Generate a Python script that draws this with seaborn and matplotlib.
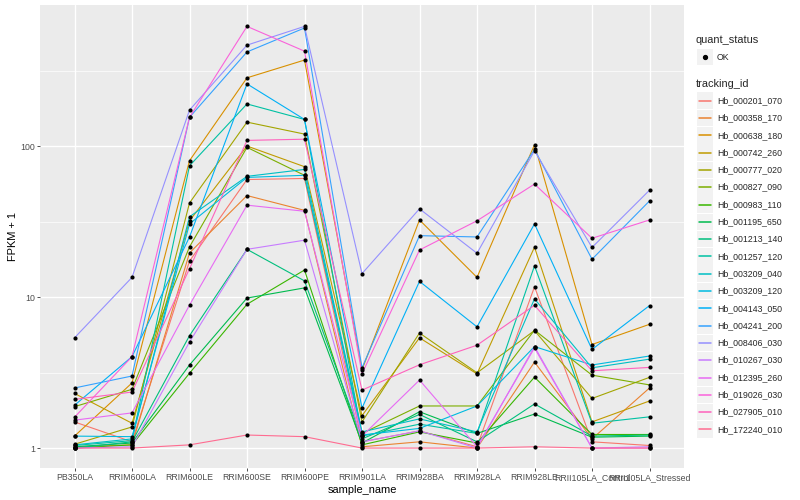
import numpy as np
import pandas as pd
import seaborn as sns
import matplotlib.pyplot as plt
from matplotlib.lines import Line2D
from matplotlib.patches import Rectangle
from matplotlib.ticker import FixedLocator, NullFormatter

samples = ["PB350LA", "RRIM600LA", "RRIM600LE", "RRIM600SE", "RRIM600PE",
           "RRIM901LA", "RRIM928BA", "RRIM928LA", "RRIM928LE",
           "RRII105LA_Control", "RRII105LA_Stressed"]

tracking_ids = ["Hb_000201_070", "Hb_000358_170", "Hb_000638_180", "Hb_000742_260",
                "Hb_000777_020", "Hb_000827_090", "Hb_000983_110", "Hb_001195_650",
                "Hb_001213_140", "Hb_001257_120", "Hb_003209_040", "Hb_003209_120",
                "Hb_004143_050", "Hb_004241_200", "Hb_008406_030", "Hb_010267_030",
                "Hb_012395_260", "Hb_019026_030", "Hb_027905_010", "Hb_172240_010"]

# FPKM + 1, one list per gene, in the order of samples
hb_000201_070 = [1.49, 1.10, 17.3, 60, 61, 1.10, 1.30, 1.02, 11.7, 1.10, 1.04]
hb_000358_170 = [1.02, 1.05, 19.6, 47, 37.5, 1.02, 1.10, 1.00, 3.71, 1.15, 2.50]
hb_000638_180 = [1.20, 2.70, 80, 283, 371, 3.30, 32.4, 13.5, 102, 4.85, 6.60]
hb_000742_260 = [2.30, 1.46, 32, 100, 73, 1.64, 5.37, 3.10, 21.4, 1.49, 2.05]
hb_000777_020 = [1.06, 1.38, 42, 144, 120, 1.49, 5.78, 3.15, 6.0, 2.13, 2.94]
hb_000827_090 = [1.88, 2.45, 21.5, 98, 64, 1.25, 1.90, 1.90, 6.04, 3.04, 2.62]
hb_000983_110 = [1.00, 1.05, 3.13, 8.96, 15.1, 1.05, 1.28, 1.08, 2.95, 1.23, 1.23]
hb_001195_650 = [1.02, 1.08, 3.55, 9.85, 11.5, 1.08, 1.74, 1.25, 1.68, 1.18, 1.20]
hb_001213_140 = [1.00, 1.10, 5.55, 20.7, 12.8, 1.15, 1.67, 1.10, 1.96, 1.20, 1.22]
hb_001257_120 = [1.04, 1.12, 74, 190, 150, 1.20, 1.44, 1.25, 16.1, 1.46, 1.61]
hb_003209_040 = [1.05, 1.15, 34, 63, 70, 1.28, 1.56, 1.28, 9.73, 3.40, 3.88]
hb_003209_120 = [1.20, 1.19, 30.5, 62, 64, 1.22, 1.35, 1.90, 4.70, 3.55, 4.07]
hb_004143_050 = [1.92, 4.03, 25, 258, 150, 1.84, 12.7, 6.35, 30.5, 4.50, 8.78]
hb_004241_200 = [2.50, 3.00, 155, 420, 605, 3.40, 25.5, 25, 95, 17.8, 43.3]
hb_008406_030 = [5.37, 13.5, 173, 466, 620, 14.3, 38.4, 19.5, 93, 21.3, 51]
hb_010267_030 = [1.00, 1.02, 5.04, 20.7, 23.8, 1.10, 1.30, 1.00, 4.70, 1.00, 1.02]
hb_012395_260 = [1.53, 1.71, 8.85, 40.6, 37, 1.20, 2.82, 1.02, 4.60, 1.00, 1.00]
hb_019026_030 = [1.60, 4.03, 155, 620, 425, 3.10, 20.5, 32, 56, 24.5, 32.4]
hb_027905_010 = [2.10, 2.35, 15.4, 109, 111, 2.42, 3.56, 4.80, 8.82, 3.25, 3.42]
hb_172240_010 = [1.00, 1.00, 1.05, 1.22, 1.19, 1.00, 1.00, 1.00, 1.02, 1.00, 1.00]

values = [hb_000201_070, hb_000358_170, hb_000638_180, hb_000742_260, hb_000777_020,
          hb_000827_090, hb_000983_110, hb_001195_650, hb_001213_140, hb_001257_120,
          hb_003209_040, hb_003209_120, hb_004143_050, hb_004241_200, hb_008406_030,
          hb_010267_030, hb_012395_260, hb_019026_030, hb_027905_010, hb_172240_010]

# ggplot2 default hue palette for 20 levels
colors = ["#F8766D", "#EA8331", "#D89000", "#C09B00", "#A3A500", "#7CAE00", "#39B600",
          "#00BB4E", "#00BF7D", "#00C1A3", "#00BFC4", "#00BAE0", "#00B0F6", "#35A2FF",
          "#9590FF", "#C77CFF", "#E76BF3", "#FA62DB", "#FF62BC", "#FF6C91"]

rows = []
for tid, vals in zip(tracking_ids, values):
    for s, v in zip(samples, vals):
        rows.append({"tracking_id": tid, "sample_name": s, "fpkm1": v})
df = pd.DataFrame(rows)
df["x"] = pd.Categorical(df["sample_name"], categories=samples).codes

sns.set_theme(style="darkgrid")
plt.rcParams["font.family"] = ["Liberation Sans", "DejaVu Sans"]

W, H = 800, 500
fig = plt.figure(figsize=(8, 5), dpi=100)
fig.patch.set_facecolor("white")
ax = fig.add_axes([40 / W, 1 - 468 / H, (684 - 40) / W, (468 - 5) / H])
ax.set_facecolor("#EBEBEB")

sns.lineplot(data=df, x="x", y="fpkm1", hue="tracking_id", hue_order=tracking_ids,
             palette=dict(zip(tracking_ids, colors)), estimator=None, sort=False,
             linewidth=0.8, legend=False, ax=ax, zorder=2)
sns.scatterplot(data=df, x="x", y="fpkm1", color="black", s=9, linewidth=0,
                legend=False, ax=ax, zorder=3)

ax.set_yscale("log")
ax.set_xlim(-0.6, len(samples) - 1 + 0.6)
ax.set_ylim(10 ** -0.132, 10 ** 2.934)
ax.set_xticks(range(len(samples)))
ax.set_xticklabels(samples)
ax.yaxis.set_major_locator(FixedLocator([1, 10, 100]))
ax.set_yticklabels(["1", "10", "100"])
ax.yaxis.set_minor_locator(FixedLocator([10 ** 0.5, 10 ** 1.5, 10 ** 2.5]))
ax.yaxis.set_minor_formatter(NullFormatter())

ax.grid(which="major", color="white", linewidth=1.0)
ax.grid(which="minor", axis="y", color="white", linewidth=0.5)
ax.grid(which="minor", axis="x", visible=False)
for sp in ax.spines.values():
    sp.set_visible(False)
ax.tick_params(which="major", length=2.0, width=0.6, color="#333333",
               labelsize=6.3, labelcolor="#4D4D4D", pad=1.5, direction="out")
ax.tick_params(which="minor", length=0)
ax.tick_params(axis="x", bottom=True)
ax.tick_params(axis="y", left=True)

ax.set_xlabel("sample_name", fontsize=7.9, color="black", labelpad=2)
ax.set_ylabel("FPKM + 1", fontsize=7.9, color="black", labelpad=2)

# legends, ggplot-like, placed in figure pixels
def fx(px):
    return px / W

def fy(py):
    return 1 - py / H

fig.text(fx(696), fy(40), "quant_status", fontsize=7.9, va="center", ha="left")
fig.add_artist(Rectangle((fx(697), fy(65)), 16 / W, 16 / H, transform=fig.transFigure,
                         facecolor="#F2F2F2", edgecolor="none"))
fig.add_artist(Line2D([fx(705)], [fy(57)], marker="o", markersize=2.8, color="black",
                      linestyle="none", transform=fig.transFigure))
fig.text(fx(717), fy(57), "OK", fontsize=6.3, va="center", ha="left")

fig.text(fx(696), fy(84), "tracking_id", fontsize=7.9, va="center", ha="left")
for i, (tid, c) in enumerate(zip(tracking_ids, colors)):
    cy = 100.7 + 17.3 * i
    fig.add_artist(Rectangle((fx(697), fy(cy + 8.3)), 16 / W, 16.6 / H,
                             transform=fig.transFigure, facecolor="#F2F2F2",
                             edgecolor="none", zorder=1))
    fig.add_artist(Line2D([fx(699), fx(711)], [fy(cy), fy(cy)], color=c, linewidth=1.1,
                          transform=fig.transFigure, zorder=3))
    fig.text(fx(717), fy(cy), tid, fontsize=6.3, va="center", ha="left")

fig.savefig("out.png", dpi=100)
